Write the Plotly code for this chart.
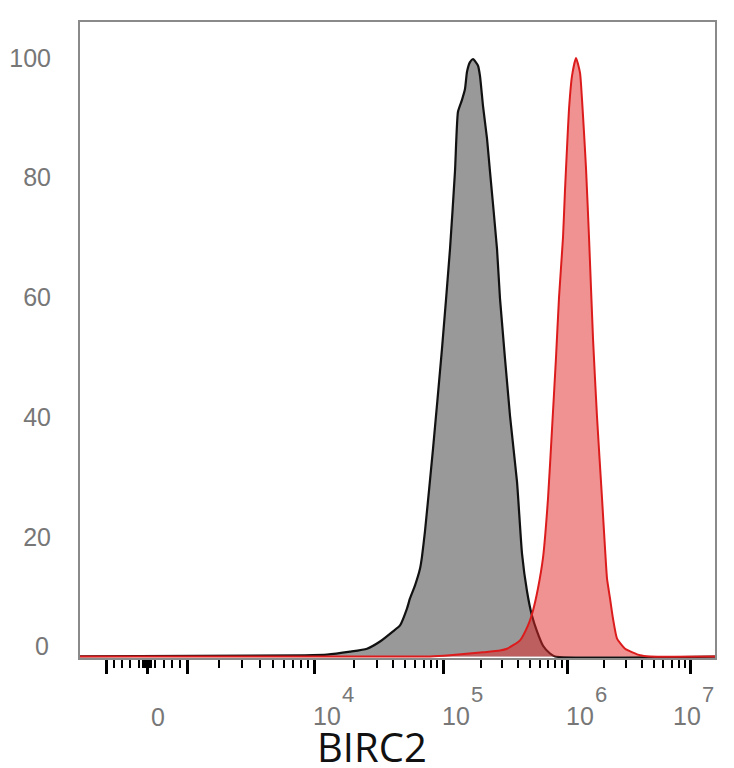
import numpy as np
import plotly.graph_objects as go

# ---------------- data ----------------
# Isotype / control histogram (grey): intensity, % of max
grey_intensity = [-5000, 8500, 12400, 18600, 25100, 31700, 40050, 45500, 51600, 54500,
                  59800, 65500, 67900, 71700, 83100, 98000, 113600, 124500, 131600,
                  141750, 149800, 155500, 164300, 173700, 190600, 197700, 209000,
                  225200, 238000, 271000, 286500, 345000, 392800, 431100, 473100,
                  519200, 569800, 637200, 725700, 796600, 2.0e7]
grey_pct = [0, 0.2, 0.3, 0.8, 1.3, 2.5, 4.2, 5.2, 8.0, 9.7,
            11.9, 14.7, 16.7, 20.9, 34.7, 51.4, 68.1, 81.0, 91.0,
            93.0, 94.8, 97.7, 99.3, 99.8, 98.7, 97.0, 92.0,
            86.5, 81.0, 68.1, 59.8, 40.2, 29.2, 17.2, 10.9,
            6.8, 4.2, 1.8, 0.5, 0, 0]

# BIRC2 stained histogram (red): intensity, % of max
red_intensity = [-5000, 78640, 113600, 209000, 286500, 326200, 415300, 482000, 529000,
                 580500, 637200, 699200, 753400, 811500, 858100, 924200, 959500,
                 996000, 1.0338e6, 1.0932e6, 1.1779e6, 1.2689e6, 1.3171e6, 1.367e6,
                 1.4189e6, 1.5004e6, 1.617e6, 1.7415e6, 1.9118e6, 2.0219e6, 2.0986e6,
                 2.2191e6, 2.3467e6, 2.5286e6, 2.9355e6, 3.882e6, 4.678e6, 2.0e7]
red_pct = [0, 0, 0.2, 0.7, 1.0, 1.3, 2.7, 5.2, 7.7,
           11.4, 16.5, 26.4, 38, 50, 60, 70, 78,
           85, 91.5, 97, 100, 97.5, 93, 87.5,
           81.5, 70, 53, 40, 26.4, 18, 13,
           9.7, 6.3, 3.0, 1.3, 0.2, 0, 0]

major_ticks = [-1000, 0, 1000, 1e4, 1e5, 1e6, 1e7]
minor_ticks = ([s * k for s in (-1, 1) for k in (200, 400, 600, 800)] +
               [s * k * 10 for s in (-1, 1) for k in range(1, 11)] +
               [k * 1000 for k in range(2, 10)] + [k * 1e4 for k in range(2, 10)] +
               [k * 1e5 for k in range(2, 10)] + [k * 1e6 for k in range(2, 10)])
x_label_values = [0, 1e4, 1e5, 1e6, 1e7]
x_label_exponents = ["", "4", "5", "6", "7"]
y_tick_values = [20, 40, 60, 80, 100]
x_title = "BIRC2"

# ---------------- biexponential (logicle-type) display scale ----------------
P = 2.2
S0 = 395.0
LN10 = np.log(10.0)


def _F(d):
    return np.exp(d) - 1 + P ** 2 * (1 - np.exp(-d / P))


_d_grid = np.linspace(0, 12, 40001)
_v_grid = S0 * _F(_d_grid)


def to_disp(v):
    v = np.asarray(v, dtype=float)
    d = np.interp(np.abs(v), _v_grid, _d_grid)
    return np.sign(v) * d / LN10


x_range = [float(to_disp(-1811)), float(to_disp(1.57e7))]

# ---------------- figure ----------------
fig = go.Figure()

fig.add_trace(go.Scatter(
    x=to_disp(grey_intensity), y=grey_pct, mode="lines",
    fill="tozeroy", fillcolor="#999999",
    line=dict(color="#111111", width=2.2, shape="spline", smoothing=0.5),
    hoverinfo="skip", name="control"))

fig.add_trace(go.Scatter(
    x=to_disp(red_intensity), y=red_pct, mode="lines",
    fill="tozeroy", fillcolor="rgba(226,38,38,0.5)",
    line=dict(color="#dc1c1c", width=2.0, shape="spline", smoothing=0.5),
    hoverinfo="skip", name="BIRC2"))

num_font = dict(family="Liberation Sans, Arial, sans-serif", size=25, color="#777777")
sup_font = dict(family="Liberation Sans, Arial, sans-serif", size=22, color="#777777")

annotations = []
for val, exp in zip(x_label_values, x_label_exponents):
    xd = float(to_disp(val))
    if exp == "":
        annotations.append(dict(x=xd, y=-0.093, xref="x", yref="paper", text="0",
                                showarrow=False, xanchor="left", yanchor="middle",
                                xshift=2, font=num_font))
    else:
        base_shift = -20 if exp == "7" else -3
        annotations.append(dict(x=xd, y=-0.091, xref="x", yref="paper", text="10",
                                showarrow=False, xanchor="left", yanchor="middle",
                                xshift=base_shift, font=num_font))
        annotations.append(dict(x=xd, y=-0.057, xref="x", yref="paper", text=exp,
                                showarrow=False, xanchor="left", yanchor="middle",
                                xshift=base_shift + 29, font=sup_font))

# y "0" label sits just above the baseline
annotations.append(dict(x=0, y=0, xref="paper", yref="y", text="0", showarrow=False,
                        xanchor="right", yanchor="middle", xshift=-29, yshift=11,
                        font=num_font))
# x axis title
annotations.append(dict(x=0.4598, y=-0.139, xref="paper", yref="paper", text=x_title,
                        showarrow=False, xanchor="center", yanchor="middle",
                        font=dict(family="Open Sans, Noto Sans, sans-serif", size=40,
                                  color="#111111")))

# page body has an 8px margin, so the figure is made 8px smaller and margins shifted
fig.update_layout(
    width=726, height=760,
    margin=dict(l=72, r=19, t=14, b=110, autoexpand=False),
    paper_bgcolor="white", plot_bgcolor="white",
    showlegend=False,
    annotations=annotations,
    xaxis=dict(
        range=x_range, showgrid=False, zeroline=False, automargin=False,
        showline=True, linecolor="#8a8a8a", linewidth=2, mirror=True,
        layer="below traces",
        tickmode="array", tickvals=[float(t) for t in to_disp(major_ticks)],
        showticklabels=False, ticks="outside", ticklen=14, tickwidth=3,
        tickcolor="#000000",
        minor=dict(tickmode="array", tickvals=[float(t) for t in to_disp(minor_ticks)],
                   ticks="outside", ticklen=8, tickwidth=1.5, tickcolor="#000000",
                   showgrid=False),
    ),
    yaxis=dict(
        range=[-0.25, 106.0], showgrid=False, zeroline=False, automargin=False,
        showline=True, linecolor="#8a8a8a", linewidth=2, mirror=True,
        layer="below traces",
        tickmode="array", tickvals=y_tick_values,
        ticktext=[str(v) for v in y_tick_values],
        ticks="", ticklabelstandoff=22, tickfont=num_font,
    ),
)

fig.write_html("out.html")
